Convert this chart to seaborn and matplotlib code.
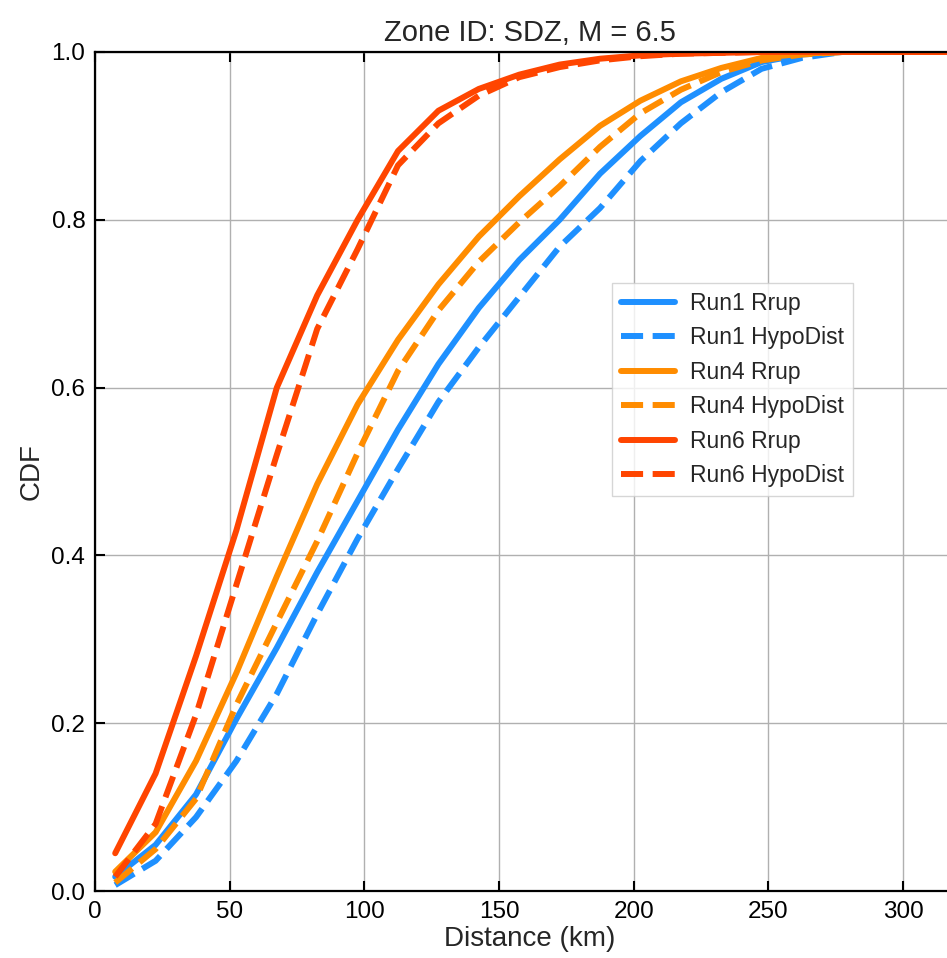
"""CDF of source-to-site distance for three runs, Zone SDZ."""

import matplotlib
matplotlib.use('Agg')
import matplotlib.pyplot as plt
import seaborn as sns
import numpy as np
import pandas as pd

# Bin centres (km)
distance = [7.5, 22.5, 37.5, 52.5, 67.5, 82.5, 97.5, 112.5, 127.5, 142.5,
            157.5, 172.5, 187.5, 202.5, 217.5, 232.5, 247.5, 262.5, 277.5,
            292.5, 307.5, 322.5, 337.5]

run1_rrup = [0.017, 0.055, 0.115, 0.205, 0.29, 0.38, 0.465, 0.55, 0.628, 0.695,
             0.752, 0.80, 0.855, 0.90, 0.94, 0.968, 0.988, 0.997, 1.0,
             1.0, 1.0, 1.0, 1.0]
run1_hypo = [0.007, 0.036, 0.088, 0.155, 0.235, 0.33, 0.42, 0.503, 0.583, 0.648,
             0.708, 0.768, 0.814, 0.87, 0.915, 0.952, 0.98, 0.993, 1.0,
             1.0, 1.0, 1.0, 1.0]
run4_rrup = [0.023, 0.07, 0.155, 0.26, 0.375, 0.485, 0.58, 0.657, 0.723, 0.78,
             0.828, 0.872, 0.912, 0.942, 0.965, 0.981, 0.993, 0.998, 1.0,
             1.0, 1.0, 1.0, 1.0]
run4_hypo = [0.01, 0.05, 0.11, 0.222, 0.32, 0.417, 0.522, 0.62, 0.692, 0.75,
             0.797, 0.84, 0.887, 0.927, 0.955, 0.976, 0.99, 0.997, 1.0,
             1.0, 1.0, 1.0, 1.0]
run6_rrup = [0.045, 0.14, 0.28, 0.43, 0.60, 0.71, 0.80, 0.882, 0.93, 0.956,
             0.973, 0.985, 0.992, 0.996, 0.998, 0.999, 1.0, 1.0, 1.0,
             1.0, 1.0, 1.0, 1.0]
run6_hypo = [0.017, 0.08, 0.21, 0.365, 0.52, 0.67, 0.765, 0.865, 0.915, 0.948,
             0.97, 0.982, 0.99, 0.995, 0.998, 0.999, 1.0, 1.0, 1.0,
             1.0, 1.0, 1.0, 1.0]

labels = ['Run1 Rrup', 'Run1 HypoDist', 'Run4 Rrup', 'Run4 HypoDist',
          'Run6 Rrup', 'Run6 HypoDist']
series = [run1_rrup, run1_hypo, run4_rrup, run4_hypo, run6_rrup, run6_hypo]
colors = ['#1E90FF', '#1E90FF', '#FF8C00', '#FF8C00', '#FF4500', '#FF4500']
dash_styles = ['', (3.7, 1.6), '', (3.7, 1.6), '', (3.7, 1.6)]

frames = [pd.DataFrame({'distance': distance, 'cdf': vals, 'label': lab})
          for lab, vals in zip(labels, series)]
df = pd.concat(frames, ignore_index=True)

sns.set_style('white')
plt.rcParams['font.family'] = ['Liberation Sans', 'DejaVu Sans']

fig = plt.figure(figsize=(9.47, 9.58), dpi=100)
ax = fig.add_axes([95 / 947, 67 / 958, 870 / 947, 839 / 958])

sns.lineplot(
    data=df, x='distance', y='cdf',
    hue='label', style='label',
    hue_order=labels, style_order=labels,
    palette=dict(zip(labels, colors)),
    dashes=dict(zip(labels, dash_styles)),
    linewidth=4.3, errorbar=None, sort=False, ax=ax
)

ax.set_xlim(0, 323)
ax.set_ylim(0, 1.0)
ax.set_xticks([0, 50, 100, 150, 200, 250, 300])
ax.set_yticks([0.0, 0.2, 0.4, 0.6, 0.8, 1.0])
ax.grid(True, color='#b0b0b0', linewidth=1.0)
ax.set_axisbelow(True)

for spine in ax.spines.values():
    spine.set_color('black')
    spine.set_linewidth(1.6)

ax.tick_params(direction='in', length=7, width=1.5, labelsize=17.5,
               bottom=True, left=True, top=True, right=True,
               pad=7, colors='black')

ax.set_xlabel('Distance (km)', fontsize=20, labelpad=2)
ax.set_ylabel('CDF', fontsize=20, labelpad=5)
ax.set_title('Zone ID: SDZ, M = 6.5', fontsize=21, pad=8)

leg = ax.legend(loc='upper left', bbox_to_anchor=(0.594, 0.725),
                borderaxespad=0, fontsize=16.5, handlelength=2.35,
                handletextpad=0.65, labelspacing=0.5,
                fancybox=False, frameon=True)
leg.get_frame().set_edgecolor('#cccccc')
leg.get_frame().set_linewidth(1.0)

fig.savefig('out.png', dpi=100)
plt.close(fig)
